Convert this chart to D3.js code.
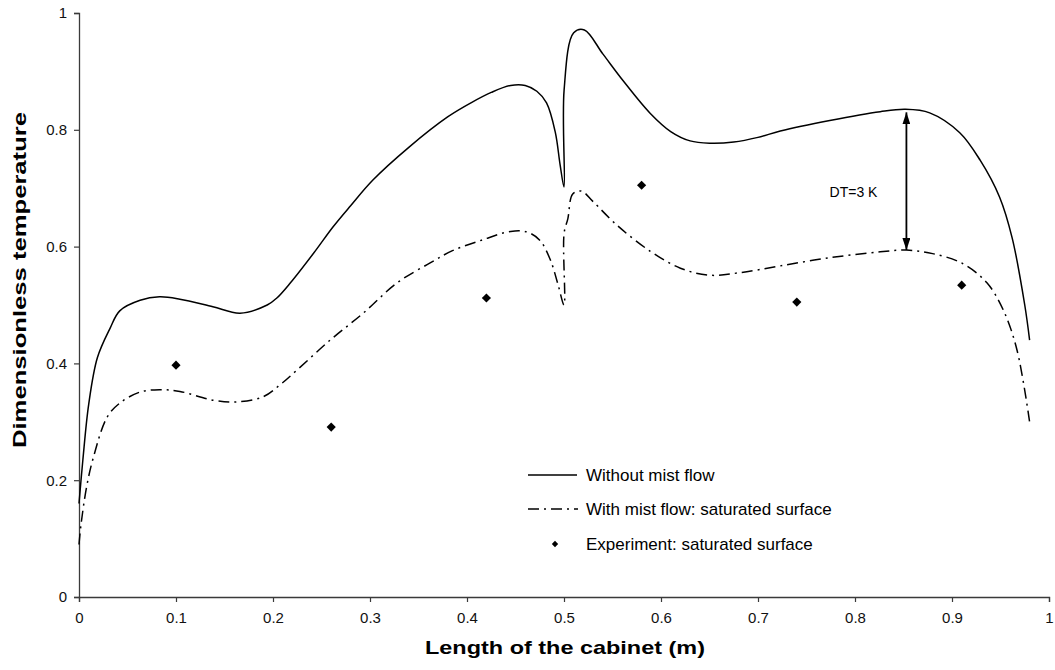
<!DOCTYPE html>
<html>
<head>
<meta charset="utf-8">
<script src="https://cdn.jsdelivr.net/npm/d3@7"></script>
<style>
  html, body { margin: 0; padding: 0; background: #fff; }
  svg { display: block; font-family: "Liberation Sans", Arial, sans-serif; }
</style>
</head>
<body>
<svg id="chart" width="1055" height="670"></svg>
<script>
// Axis ticks
const xTicks = [0, 0.1, 0.2, 0.3, 0.4, 0.5, 0.6, 0.7, 0.8, 0.9, 1];
const yTicks = [0, 0.2, 0.4, 0.6, 0.8, 1];

// Without mist flow: [length (m), dimensionless temperature]
const withoutMist = [
  [0, 0.16], [0.004, 0.235], [0.01, 0.33], [0.019, 0.41], [0.032, 0.46],
  [0.042, 0.49], [0.063, 0.508], [0.083, 0.514], [0.104, 0.51], [0.138, 0.497],
  [0.166, 0.486], [0.194, 0.5], [0.204, 0.512], [0.218, 0.538], [0.242, 0.589],
  [0.262, 0.634], [0.28, 0.67], [0.303, 0.714], [0.34, 0.77], [0.38, 0.822],
  [0.405, 0.847], [0.425, 0.864], [0.445, 0.876], [0.46, 0.876], [0.472, 0.866],
  [0.482, 0.846], [0.491, 0.796], [0.496, 0.74], [0.5, 0.702], [0.5001, 0.868],
  [0.51, 0.966], [0.521, 0.971], [0.54, 0.93], [0.561, 0.884], [0.589, 0.828],
  [0.61, 0.797], [0.63, 0.781], [0.65, 0.777], [0.675, 0.779], [0.7, 0.787],
  [0.723, 0.798], [0.774, 0.816], [0.826, 0.831], [0.852, 0.835], [0.877, 0.829],
  [0.908, 0.795], [0.929, 0.748], [0.949, 0.685], [0.962, 0.615], [0.975, 0.5],
  [0.98, 0.44]
];

// With mist flow: saturated surface
const withMist = [
  [0, 0.09], [0.002, 0.123], [0.008, 0.19], [0.015, 0.24], [0.029, 0.308],
  [0.042, 0.332], [0.063, 0.351], [0.083, 0.355], [0.104, 0.352], [0.138, 0.337],
  [0.163, 0.334], [0.19, 0.343], [0.207, 0.363], [0.225, 0.389], [0.259, 0.44],
  [0.293, 0.486], [0.328, 0.538], [0.362, 0.572], [0.385, 0.593], [0.415, 0.611],
  [0.445, 0.626], [0.462, 0.625], [0.475, 0.611], [0.486, 0.577], [0.494, 0.534],
  [0.5, 0.5], [0.5001, 0.623], [0.504, 0.648], [0.509, 0.69], [0.518, 0.695],
  [0.53, 0.677], [0.555, 0.636], [0.589, 0.592], [0.62, 0.563], [0.65, 0.551],
  [0.68, 0.555], [0.723, 0.567], [0.774, 0.581], [0.826, 0.591], [0.853, 0.594],
  [0.88, 0.588], [0.911, 0.571], [0.936, 0.538], [0.953, 0.491], [0.967, 0.423],
  [0.98, 0.30]
];

// Experiment: saturated surface
const expX = [0.1, 0.26, 0.42, 0.58, 0.74, 0.91];
const expY = [0.397, 0.291, 0.512, 0.705, 0.505, 0.534];

// Temperature difference annotation
const dtX = 0.853;
const dtTop = 0.835;
const dtBottom = 0.594;
const dtLabel = "DT=3 K";

const legendLabels = [
  "Without mist flow",
  "With mist flow: saturated surface",
  "Experiment: saturated surface"
];

const svg = d3.select("#chart");
const x = d3.scaleLinear().domain([0, 1]).range([79, 1049]);
const y = d3.scaleLinear().domain([0, 1]).range([597, 13]);
const axisColor = "#3a3a3a";

// Axes
const xAxis = svg.append("g")
  .attr("transform", `translate(0,${y(0)})`)
  .call(d3.axisBottom(x).tickValues(xTicks).tickSize(5).tickPadding(10)
    .tickFormat(d => d3.format("~g")(d)));
const yAxis = svg.append("g")
  .attr("transform", `translate(${x(0)},0)`)
  .call(d3.axisLeft(y).tickValues(yTicks).tickSize(5).tickPadding(7)
    .tickFormat(d => d3.format("~g")(d)));

[xAxis, yAxis].forEach(g => {
  g.select(".domain").attr("stroke", axisColor).attr("stroke-width", 1.3);
  g.selectAll(".tick line").attr("stroke", axisColor).attr("stroke-width", 1.2);
  g.selectAll(".tick text").attr("fill", "#111").attr("font-size", 15)
    .attr("font-family", "'Liberation Sans', Arial, sans-serif");
});

// Axis titles
svg.append("text")
  .attr("x", 565).attr("y", 654)
  .attr("text-anchor", "middle")
  .attr("font-size", 19).attr("font-weight", "bold").attr("fill", "#000")
  .attr("textLength", 280).attr("lengthAdjust", "spacingAndGlyphs")
  .text("Length of the cabinet (m)");
svg.append("text")
  .attr("transform", "translate(25.5,280) rotate(-90)")
  .attr("text-anchor", "middle")
  .attr("font-size", 19).attr("font-weight", "bold").attr("fill", "#000")
  .attr("textLength", 336).attr("lengthAdjust", "spacingAndGlyphs")
  .text("Dimensionless temperature");

// Curves
const line = d3.line()
  .x(d => x(d[0])).y(d => y(d[1]))
  .curve(d3.curveCatmullRom.alpha(0.5));

svg.append("path")
  .datum(withoutMist)
  .attr("d", line)
  .attr("fill", "none").attr("stroke", "#000").attr("stroke-width", 1.5);

const dashDot = "11,5,2,5";
svg.append("path")
  .datum(withMist)
  .attr("d", line)
  .attr("fill", "none").attr("stroke", "#000").attr("stroke-width", 1.5)
  .attr("stroke-dasharray", dashDot);

// Experimental points (squares turned 45 degrees)
const diamond = d3.symbol().type(d3.symbolSquare).size(42);
svg.append("g").selectAll("path")
  .data(expX.map((v, i) => [v, expY[i]]))
  .join("path")
  .attr("d", diamond)
  .attr("transform", d => `translate(${x(d[0])},${y(d[1])}) rotate(45)`)
  .attr("fill", "#000");

// DT double arrow
const defs = svg.append("defs");
defs.append("marker")
  .attr("id", "head").attr("viewBox", "0 0 12 8")
  .attr("refX", 12).attr("refY", 4)
  .attr("markerWidth", 12).attr("markerHeight", 8)
  .attr("markerUnits", "userSpaceOnUse")
  .attr("orient", "auto-start-reverse")
  .append("path").attr("d", "M0,0 L12,4 L0,8 Z").attr("fill", "#000");

svg.append("line")
  .attr("x1", x(dtX)).attr("x2", x(dtX))
  .attr("y1", y(dtTop) + 3).attr("y2", y(dtBottom))
  .attr("stroke", "#000").attr("stroke-width", 1.8)
  .attr("marker-start", "url(#head)").attr("marker-end", "url(#head)");

svg.append("text")
  .attr("x", x(dtX) - 29).attr("y", 197)
  .attr("text-anchor", "end").attr("font-size", 14).attr("fill", "#000")
  .text(dtLabel);

// Legend
const lg = svg.append("g");
const rowY = [475, 509, 544];
lg.append("line").attr("x1", 528).attr("x2", 577).attr("y1", rowY[0]).attr("y2", rowY[0])
  .attr("stroke", "#000").attr("stroke-width", 1.5);
lg.append("line").attr("x1", 528).attr("x2", 578).attr("y1", rowY[1]).attr("y2", rowY[1])
  .attr("stroke", "#000").attr("stroke-width", 1.5).attr("stroke-dasharray", dashDot);
lg.append("path").attr("d", d3.symbol().type(d3.symbolSquare).size(20))
  .attr("transform", `translate(555,${rowY[2]}) rotate(45)`).attr("fill", "#000");
lg.selectAll("text.lbl")
  .data(legendLabels)
  .join("text")
  .attr("class", "lbl")
  .attr("x", 586).attr("y", (d, i) => rowY[i] + 6)
  .attr("font-size", 17).attr("fill", "#000")
  .text(d => d);
</script>
</body>
</html>
